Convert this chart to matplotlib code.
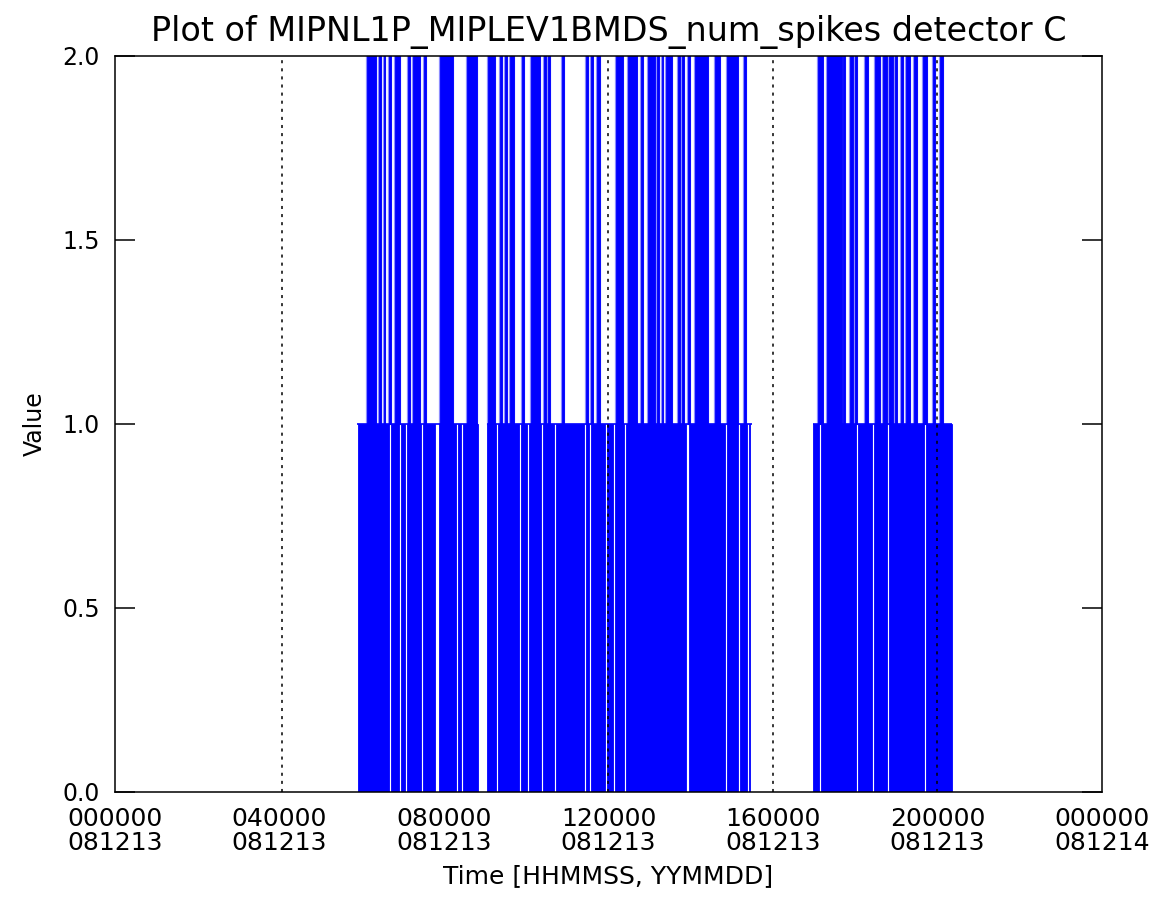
import matplotlib
matplotlib.use("Agg")
import matplotlib.pyplot as plt

plt.rcParams['font.family'] = ['DejaVu Sans']

# time in hours of day (2008-12-13)
# blocks where num_spikes toggles fast between 0 and 1
busy_start = [5.91, 6.71, 6.95, 7.10, 7.49, 7.89, 8.34, 8.46, 9.05, 9.31, 9.87, 10.06, 10.40,
              10.72, 11.45, 11.57, 11.96, 12.15, 12.42, 13.97, 14.88, 15.19, 15.41,
              16.97, 17.16, 18.06, 18.45, 18.82, 19.72]
busy_end = [6.67, 6.91, 7.06, 7.45, 7.77, 8.30, 8.42, 8.83, 9.27, 9.83, 10.02, 10.36, 10.68,
            11.41, 11.53, 11.92, 12.11, 12.38, 13.89, 14.84, 15.15, 15.37, 15.44,
            17.12, 18.02, 18.41, 18.78, 19.68, 20.35]

# bursts reaching 2 spikes
spk_start = [6.13, 6.43, 6.53, 6.67, 6.81, 7.13, 7.25, 7.51, 7.90, 8.56, 9.07, 9.37, 9.49,
             9.61, 9.90, 10.12, 10.44, 10.53, 10.87, 11.46, 11.58, 11.72, 12.18, 12.47, 12.80,
             12.96, 13.19, 13.29, 13.40, 13.69, 13.79, 13.94, 14.10, 14.59, 14.88, 15.30,
             17.10, 17.31, 17.71, 17.87, 17.99, 18.24, 18.48, 18.68, 18.82, 18.97, 19.11,
             19.23, 19.44, 19.65, 19.89, 20.06]
spk_end = [6.35, 6.47, 6.57, 6.71, 6.93, 7.17, 7.42, 7.56, 8.22, 8.80, 9.24, 9.41, 9.53,
           9.70, 9.94, 10.33, 10.48, 10.58, 10.91, 11.50, 11.62, 11.79, 12.35, 12.69, 12.84,
           13.13, 13.23, 13.33, 13.54, 13.74, 13.84, 13.98, 14.42, 14.71, 15.15, 15.34,
           17.22, 17.68, 17.75, 17.95, 18.04, 18.31, 18.60, 18.77, 18.92, 19.02, 19.16,
           19.33, 19.50, 19.75, 19.94, 20.13]

# level-1 plateaus of the active periods
active_start = [5.88, 9.05, 16.97]
active_end = [8.83, 15.50, 20.35]
active_level = [1, 1, 1]

# file boundary markers
marker_times = [4.05, 12.0, 16.0, 19.98]

tick_hours = [0, 4, 8, 12, 16, 20, 24]
tick_labels = ['000000\n081213', '040000\n081213', '080000\n081213', '120000\n081213',
               '160000\n081213', '200000\n081213', '000000\n081214']

fig = plt.figure(figsize=(11.6, 9.07), dpi=100)
ax = fig.add_axes([0.0991, 0.1268, 0.8509, 0.8115])

blue = '#0000ff'
spk_w = [e - s for s, e in zip(spk_start, spk_end)]
ax.bar(busy_start, [1] * len(busy_start),
       width=[e - s for s, e in zip(busy_start, busy_end)],
       bottom=0, align='edge', color=blue, linewidth=0.6, edgecolor=blue, zorder=2)
# soft fringe round the thin spikes, like the anti-aliased original
ax.bar(spk_start, [1] * len(spk_start), width=spk_w, bottom=1, align='edge',
       color='#8c8cff', linewidth=1.6, edgecolor='#8c8cff', zorder=1)
ax.bar(spk_start, [1] * len(spk_start), width=spk_w, bottom=1, align='edge',
       color=blue, linewidth=0.6, edgecolor=blue, zorder=2)
ax.hlines(active_level, active_start, active_end, color=blue, lw=1.2, zorder=2)

for t in marker_times:
    ax.axvline(t, color='black', lw=1.1, linestyle=(0, (2.0, 3.3)), zorder=3)

ax.set_xlim(0, 24)
ax.set_ylim(0, 2)
ax.set_xticks(tick_hours)
ax.set_xticklabels(tick_labels, fontsize=18, linespacing=1.0)
ax.set_yticks([0, 0.5, 1.0, 1.5, 2.0])
ax.set_yticklabels(['0.0', '0.5', '1.0', '1.5', '2.0'], fontsize=17)
ax.tick_params(axis='x', length=0, pad=11)
ax.tick_params(axis='y', direction='in', length=14.4, width=1.1, right=True, pad=11)

for sp in ax.spines.values():
    sp.set_linewidth(1.1)
    sp.set_zorder(4)

ax.set_title('Plot of MIPNL1P_MIPLEV1BMDS_num_spikes detector C', fontsize=24, pad=11)
ax.set_xlabel('Time [HHMMSS, YYMMDD]', fontsize=18, labelpad=6)
ax.set_ylabel('Value', fontsize=17, labelpad=11)

fig.savefig('out.png', dpi=100)
